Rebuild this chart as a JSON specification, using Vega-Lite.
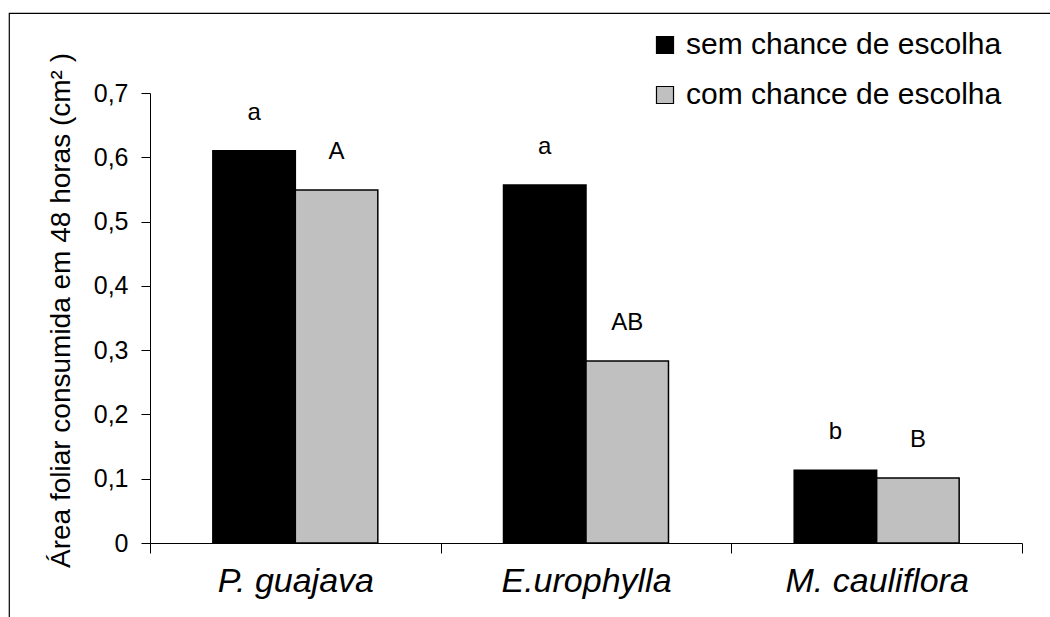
{
  "$schema": "https://vega.github.io/schema/vega-lite/v6.json",
  "autosize": {"type": "none"},
  "padding": {"left": 9, "top": 13, "right": -6, "bottom": -6},
  "width": 1047,
  "height": 610,
  "background": "white",
  "config": {
    "font": "Liberation Sans",
    "view": {"stroke": "#000000", "strokeWidth": 1.2}
  },
  "data": {
    "values": [
      {"especie": "P. guajava", "tratamento": "sem chance de escolha", "area": 0.610, "letra": "a"},
      {"especie": "P. guajava", "tratamento": "com chance de escolha", "area": 0.549, "letra": "A"},
      {"especie": "E.urophylla", "tratamento": "sem chance de escolha", "area": 0.557, "letra": "a"},
      {"especie": "E.urophylla", "tratamento": "com chance de escolha", "area": 0.283, "letra": "AB"},
      {"especie": "M. cauliflora", "tratamento": "sem chance de escolha", "area": 0.113, "letra": "b"},
      {"especie": "M. cauliflora", "tratamento": "com chance de escolha", "area": 0.101, "letra": "B"}
    ]
  },
  "encoding": {
    "x": {
      "field": "especie",
      "type": "nominal",
      "sort": null,
      "scale": {"range": [141, 1013], "paddingInner": 0, "paddingOuter": 0},
      "axis": {
        "title": null,
        "offset": -80,
        "tickBand": "extent",
        "tickSize": 10,
        "tickColor": "#000000",
        "domainColor": "#000000",
        "labelAngle": 0,
        "labelFontSize": 34,
        "labelFontStyle": "italic",
        "labelColor": "#000000",
        "labelPadding": 11,
        "labelLimit": 400
      }
    },
    "xOffset": {
      "field": "tratamento",
      "type": "nominal",
      "sort": ["sem chance de escolha", "com chance de escolha"],
      "scale": {"paddingInner": 0, "paddingOuter": 0.762}
    },
    "y": {
      "field": "area",
      "type": "quantitative",
      "scale": {"domain": [0, 0.7], "range": [530, 80], "nice": false, "zero": true},
      "axis": {
        "title": "Área foliar consumida em 48 horas (cm² )",
        "titleFontSize": 28,
        "titleFontWeight": "normal",
        "titleColor": "#000000",
        "titleX": -75,
        "titleY": 297,
        "offset": -141,
        "values": [0, 0.1, 0.2, 0.3, 0.4, 0.5, 0.6, 0.7],
        "labelExpr": "datum.value == 0 ? '0' : replace(format(datum.value, '.1f'), '.', ',')",
        "labelFontSize": 25,
        "labelColor": "#000000",
        "labelPadding": 13,
        "tickSize": 9,
        "tickColor": "#000000",
        "domainColor": "#000000",
        "grid": false
      }
    }
  },
  "layer": [
    {
      "mark": {"type": "bar", "stroke": "#000000", "strokeWidth": 1.5},
      "encoding": {
        "color": {
          "field": "tratamento",
          "type": "nominal",
          "sort": ["sem chance de escolha", "com chance de escolha"],
          "scale": {"domain": ["sem chance de escolha", "com chance de escolha"], "range": ["#000000", "#c0c0c0"]},
          "legend": {
            "title": null,
            "orient": "none",
            "legendX": 641,
            "legendY": 17,
            "symbolType": "square",
            "symbolSize": 290,
            "symbolStrokeColor": "#000000",
            "symbolStrokeWidth": 1.2,
            "labelFontSize": 30,
            "labelColor": "#000000",
            "labelOffset": 6,
            "rowPadding": 20,
            "labelLimit": 500
          }
        }
      }
    },
    {
      "mark": {"type": "text", "fontSize": 24, "color": "#000000", "baseline": "alphabetic", "dy": -31},
      "encoding": {
        "text": {"field": "letra"}
      }
    }
  ]
}
